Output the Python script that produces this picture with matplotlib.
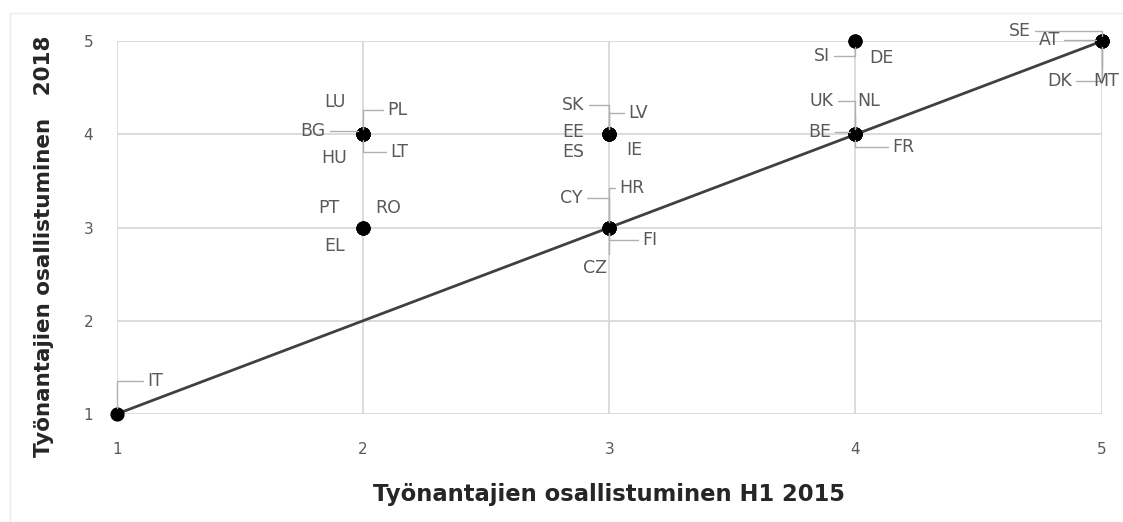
import matplotlib.pyplot as plt
from matplotlib.patches import Rectangle

countries = ['IT', 'LU', 'PL', 'BG', 'HU', 'LT', 'PT', 'RO', 'EL',
             'SK', 'LV', 'EE', 'ES', 'IE', 'CY', 'HR', 'FI', 'CZ',
             'SI', 'DE', 'UK', 'NL', 'BE', 'FR', 'SE', 'AT', 'DK', 'MT']
h1_2015 = [1, 2, 2, 2, 2, 2, 2, 2, 2,
           3, 3, 3, 3, 3, 3, 3, 3, 3,
           4, 4, 4, 4, 4, 4, 5, 5, 5, 5]
y_2018 = [1, 4, 4, 4, 4, 4, 3, 3, 3,
          4, 4, 4, 4, 4, 3, 3, 3, 3,
          5, 5, 4, 4, 4, 4, 5, 5, 5, 5]
ticks = [1, 2, 3, 4, 5]

# label offsets in pixels (dx, dy) and whether a leader line is drawn
label_pos = {
    'IT': (38, 33, True), 'LU': (-28, 32, False), 'PL': (34, 24, True),
    'BG': (-50, 3, True), 'HU': (-29, -24, False), 'LT': (36, -18, True),
    'PT': (-34, 20, False), 'RO': (25, 20, False), 'EL': (-28, -18, False),
    'SK': (-36, 29, True), 'LV': (29, 21, True), 'EE': (-36, 2, False),
    'ES': (-36, -18, False), 'IE': (25, -16, False), 'CY': (-38, 30, True),
    'HR': (23, 40, True), 'FI': (41, -12, True), 'CZ': (-14, -40, True),
    'SI': (-34, -15, True), 'DE': (26, -17, False), 'UK': (-34, 33, True),
    'NL': (13, 33, True), 'BE': (-36, 2, True), 'FR': (48, -13, True),
    'SE': (-82, 10, True), 'AT': (-52, 1, True), 'DK': (-42, -40, True),
    'MT': (5, -40, True),
}

fig = plt.figure(figsize=(11.23, 5.22), dpi=100)
fig.patches.append(Rectangle((0.0089, -0.02), 1.1, 0.995, transform=fig.transFigure,
                             fill=False, edgecolor='#ececec', lw=1))
ax = fig.add_axes([0.104, 0.207, 0.877, 0.714])

ax.plot([1, 5], [1, 5], color='#404040', lw=2, zorder=3)
ax.scatter(h1_2015, y_2018, s=85, color='black', zorder=4, clip_on=False)

for c, x, y in zip(countries, h1_2015, y_2018):
    dx, dy, leader = label_pos[c]
    props = None
    if leader:
        props = dict(arrowstyle='-', color='#b0b0b0', lw=1, shrinkA=1, shrinkB=4,
                     connectionstyle='angle,angleA=0,angleB=90,rad=0')
    ax.annotate(c, (x, y), xytext=(dx, dy), textcoords='offset pixels',
                ha='center', va='center', fontsize=12.5, color='#595959',
                arrowprops=props, zorder=5)

ax.set_xlim(1, 5)
ax.set_ylim(1, 5)
ax.set_xticks(ticks)
ax.set_yticks(ticks)
ax.grid(True, color='#d9d9d9', lw=1.3)
ax.set_axisbelow(True)
for s in ax.spines.values():
    s.set_visible(False)
ax.tick_params(length=0, colors='#595959', labelsize=11)
ax.tick_params(axis='x', pad=20)
ax.tick_params(axis='y', pad=17)

ax.set_xlabel('Työnantajien osallistuminen H1 2015', fontsize=16.3, fontweight='bold',
              color='#262626', labelpad=19)
ax.set_ylabel('Työnantajien osallistuminen   2018', fontsize=15.5, fontweight='bold',
              color='#262626')
ax.yaxis.set_label_coords(-0.064, 0.45)

fig.savefig('out.png', dpi=100)
